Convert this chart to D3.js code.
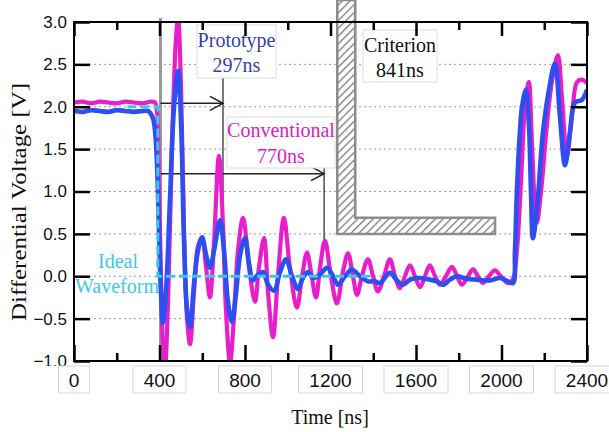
<!DOCTYPE html>
<html>
<head>
<meta charset="utf-8">
<script src="https://cdn.jsdelivr.net/npm/d3@7"></script>
<style>
  html, body { margin: 0; padding: 0; background: #fff; }
  svg { display: block; }
</style>
</head>
<body>
<svg id="chart" width="609" height="432"></svg>
<script>
// ---------------- DATA ----------------
const xTickLabels = [0, 400, 800, 1200, 1600, 2000, 2400];
const xMinorTicks = [200, 600, 1000, 1400, 1800, 2200];
const yTickValues = [-1.0, -0.5, 0.0, 0.5, 1.0, 1.5, 2.0, 2.5, 3.0];

// Conventional (magenta) waveform: time [ns], voltage [V]
const convTime = [0, 40, 80, 120, 160, 200, 240, 280, 320, 360, 379, 388, 398, 407, 416, 426, 440, 458, 477, 487,
  501, 515, 529, 543, 561, 580, 599, 618, 636, 655, 678, 697, 711, 730, 748, 767, 791, 819, 847, 865,
  889, 908, 931, 954, 982, 1010, 1043, 1067, 1090, 1109, 1132, 1151, 1174, 1202, 1230, 1258, 1282, 1305, 1324, 1347,
  1375, 1399, 1422, 1450, 1478, 1502, 1525, 1548, 1572, 1595, 1619, 1642, 1665, 1689, 1712, 1740, 1768, 1792, 1815, 1843,
  1867, 1890, 1913, 1941, 1969, 1997, 2030, 2054, 2072, 2091, 2110, 2128, 2142, 2157, 2166, 2185, 2213, 2236, 2264, 2283,
  2306, 2330, 2353, 2376, 2400];
const convVolt = [2.05, 2.06, 2.04, 2.06, 2.05, 2.04, 2.06, 2.05, 2.04, 2.06, 2.05, 1.95, 1.0, 0.0, -0.8, -1.05, -0.3, 1.5, 2.8, 3.05,
  2.2, 0.5, -0.5, -0.8, -0.2, 0.35, 0.45, 0.1, -0.25, 0.4, 1.42, 0.6, -0.4, -1.02, -0.5, 0.3, 0.69, 0.1, -0.3, 0.1,
  0.45, -0.2, -0.72, 0.0, 0.69, 0.1, -0.37, 0.0, 0.28, 0.05, -0.25, 0.1, 0.42, 0.0, -0.32, 0.05, 0.27, 0.0, -0.22, 0.0,
  0.2, 0.0, -0.18, 0.0, 0.2, 0.0, -0.14, 0.0, 0.13, 0.0, -0.13, 0.0, 0.13, 0.0, -0.1, 0.0, 0.11, 0.0, -0.1, 0.0,
  0.08, 0.0, -0.08, 0.0, 0.07, 0.0, -0.08, -0.03, 0.3, 1.1, 2.0, 2.29, 1.6, 0.8, 0.63, 1.0, 1.8, 2.3, 2.61, 2.1,
  1.41, 1.9, 2.29, 2.32, 2.28];

// Prototype (blue) waveform
const protoTime = [0, 40, 80, 120, 160, 200, 240, 280, 320, 346, 356, 370, 379, 388, 398, 407, 416, 430, 449, 468,
  487, 501, 515, 529, 543, 561, 580, 599, 618, 636, 655, 683, 702, 720, 739, 758, 777, 800, 819, 837,
  861, 884, 908, 936, 964, 992, 1020, 1048, 1071, 1095, 1118, 1151, 1184, 1212, 1235, 1268, 1300, 1338, 1375, 1408,
  1431, 1478, 1511, 1539, 1572, 1609, 1665, 1698, 1726, 1759, 1792, 1838, 1885, 1946, 1993, 2030, 2054, 2063, 2072, 2086,
  2096, 2114, 2128, 2138, 2147, 2166, 2194, 2222, 2250, 2273, 2297, 2320, 2344, 2376, 2400];
const protoVolt = [1.95, 1.94, 1.96, 1.95, 1.94, 1.96, 1.95, 1.94, 1.95, 1.95, 1.93, 1.86, 1.72, 1.35, 0.5, -0.2, -0.55, -0.2, 0.9, 2.0,
  2.42, 1.8, 0.4, -0.4, -0.6, -0.1, 0.3, 0.46, 0.25, 0.1, 0.3, 0.66, 0.3, -0.3, -0.54, -0.2, 0.25, 0.45, 0.15, -0.05,
  0.02, 0.05, -0.1, -0.17, 0.05, 0.2, 0.0, -0.15, -0.02, 0.05, -0.02, 0.02, 0.1, 0.0, -0.1, 0.0, 0.08, 0.0, -0.06, -0.06,
  -0.08, 0.04, -0.05, -0.1, -0.04, -0.02, -0.04, -0.06, -0.1, -0.04, 0.0, -0.03, -0.04, -0.05, -0.02, -0.06, -0.08, 0.3, 1.0, 1.7,
  2.0, 2.2, 1.8, 1.0, 0.45, 0.8, 1.7, 2.2, 2.51, 1.9, 1.31, 1.7, 2.05, 2.08, 2.2];

// Ideal waveform
const idealTime = [250, 392, 392, 1400];
const idealVolt = [2.0, 2.0, 0.0, 0.0];

// Annotations
const pulseStart = 400;          // ns
const protoSettling = 297;       // ns
const convSettling = 770;        // ns
const criterionTime = 841;       // ns
const annotationTexts = { proto: ["Prototype", "297ns"], conv: ["Conventional", "770ns"], crit: ["Criterion", "841ns"], ideal: ["Ideal", "Waveform"] };

// ---------------- DRAW ----------------
const svg = d3.select("#chart");
const L = 74, R = 587, T = 22, B = 361;
const x = d3.scaleLinear().domain([0, 2400]).range([L, R]);
const y = d3.scaleLinear().domain([-1, 3]).range([B, T]);

const C_MAG = "#e81ecb", C_BLUE = "#2e4ff0", C_CYAN = "#3cc8ec";
const SERIF = "'Liberation Serif', 'Times New Roman', serif";
const SANS = "'Liberation Sans', Arial, sans-serif";

const defs = svg.append("defs");
defs.append("clipPath").attr("id", "plotclip").append("rect")
  .attr("x", L).attr("y", T).attr("width", R - L).attr("height", B - T);
const pat = defs.append("pattern").attr("id", "hatch").attr("patternUnits", "userSpaceOnUse")
  .attr("width", 5.5).attr("height", 5.5).attr("patternTransform", "rotate(45)");
pat.append("rect").attr("width", 5.5).attr("height", 5.5).attr("fill", "#fff");
pat.append("line").attr("x1", 0).attr("y1", 0).attr("x2", 0).attr("y2", 5.5)
  .attr("stroke", "#7a7a7a").attr("stroke-width", 2.6);

// gridlines
svg.append("g").selectAll("line").data(yTickValues.filter(v => v > -1 && v < 3)).join("line")
  .attr("x1", L).attr("x2", R).attr("y1", d => y(d)).attr("y2", d => y(d))
  .attr("stroke", "#9a9a9a").attr("stroke-width", 1).attr("stroke-dasharray", "2,3");

// criterion hatched L-shape
const critX0 = x(pulseStart + criterionTime) - 2;
const critX1 = critX0 + 18;
const critEnd = x(1970);
const critTopY = 0;
const critBarTop = y(0.69), critBarBot = y(0.5);
const critPath = `M${critX0},${critTopY} L${critX1},${critTopY} L${critX1},${critBarTop} L${critEnd},${critBarTop} L${critEnd},${critBarBot} L${critX0},${critBarBot} Z`;
svg.append("path").attr("d", critPath).attr("fill", "url(#hatch)").attr("stroke", "#8c8c8c").attr("stroke-width", 2.5);

// gray reference line at pulse start
svg.append("line").attr("x1", x(pulseStart) + 1).attr("x2", x(pulseStart) + 1).attr("y1", 18).attr("y2", B)
  .attr("stroke", "#9a9a9a").attr("stroke-width", 3);

// text boxes
function textBox(x0, y0, w, h, lines, color, baseOffsets) {
  svg.append("rect").attr("x", x0).attr("y", y0).attr("width", w).attr("height", h)
    .attr("fill", "#fff").attr("stroke", "#dcdcdc").attr("stroke-width", 1);
  lines.forEach((t, i) => {
    svg.append("text").attr("x", x0 + w / 2).attr("y", y0 + baseOffsets[i])
      .attr("text-anchor", "middle").attr("font-family", SERIF).attr("font-size", 20)
      .attr("fill", color).text(t);
  });
}

// vertical marker lines & arrows
function arrow(t0, t1, v, vLineTop, vLineBot) {
  const ya = y(v), xs = x(t0) + 1, xe = x(t1);
  svg.append("line").attr("x1", xe).attr("x2", xe).attr("y1", vLineTop).attr("y2", vLineBot)
    .attr("stroke", "#333").attr("stroke-width", 1.3);
  svg.append("line").attr("x1", xs).attr("x2", xe).attr("y1", ya).attr("y2", ya)
    .attr("stroke", "#222").attr("stroke-width", 1.5);
  svg.append("path").attr("d", `M${xe - 13},${ya - 7} L${xe},${ya} L${xe - 13},${ya + 7}`)
    .attr("fill", "none").attr("stroke", "#222").attr("stroke-width", 1.5);
}
arrow(pulseStart, pulseStart + protoSettling, 2.04, 78, y(0.7));
arrow(pulseStart, pulseStart + convSettling, 1.21, 156, y(0.43));

textBox(197, 25, 79, 53, annotationTexts.proto, "#3341a8", [22, 47]);
textBox(227, 117, 108, 51, annotationTexts.conv, "#d523c4", [20, 46]);
textBox(363, 30, 74, 52, annotationTexts.crit, "#111", [22, 47]);

// Ideal waveform label
svg.append("text").attr("x", 118).attr("y", 268).attr("text-anchor", "middle")
  .attr("font-family", SERIF).attr("font-size", 20).attr("fill", C_CYAN).text(annotationTexts.ideal[0]);
svg.append("text").attr("x", 117).attr("y", 293).attr("text-anchor", "middle")
  .attr("font-family", SERIF).attr("font-size", 20).attr("fill", C_CYAN).text(annotationTexts.ideal[1]);

// waveforms
const line = d3.line().x(d => x(d[0])).y(d => y(d[1])).curve(d3.curveCatmullRom.alpha(0.5));
const plot = svg.append("g").attr("clip-path", "url(#plotclip)");
plot.append("path").datum(d3.zip(convTime, convVolt)).attr("d", line)
  .attr("fill", "none").attr("stroke", C_MAG).attr("stroke-width", 4.2).attr("stroke-linejoin", "round");
plot.append("path").datum(d3.zip(protoTime, protoVolt)).attr("d", line)
  .attr("fill", "none").attr("stroke", C_BLUE).attr("stroke-width", 4.6).attr("stroke-linejoin", "round");
plot.append("path").datum(d3.zip(idealTime, idealVolt))
  .attr("d", d3.line().x(d => x(d[0])).y(d => y(d[1])))
  .attr("fill", "none").attr("stroke", C_CYAN).attr("stroke-width", 3).attr("stroke-dasharray", "9,4");

// axes: ticks inward
function styleAxis(g) {
  g.select(".domain").remove();
  g.selectAll(".tick line").attr("stroke", "#000").attr("stroke-width", 2.5);
}
svg.append("g").attr("transform", `translate(0,${B})`)
  .call(d3.axisBottom(x).tickValues(xTickLabels).tickSize(-16).tickFormat("")).call(styleAxis);
svg.append("g").attr("transform", `translate(0,${B})`)
  .call(d3.axisBottom(x).tickValues(xMinorTicks).tickSize(-8).tickFormat("")).call(styleAxis);
svg.append("g").attr("transform", `translate(0,${T})`)
  .call(d3.axisTop(x).tickValues(xTickLabels).tickSize(-14).tickFormat("")).call(styleAxis);
svg.append("g").attr("transform", `translate(0,${T})`)
  .call(d3.axisTop(x).tickValues(xMinorTicks).tickSize(-8).tickFormat("")).call(styleAxis);
svg.append("g").attr("transform", `translate(${R},0)`)
  .call(d3.axisRight(y).tickValues(yTickValues).tickSize(-16).tickFormat("")).call(styleAxis);
const yAx = svg.append("g").attr("transform", `translate(${L},0)`)
  .call(d3.axisLeft(y).tickValues(yTickValues).tickSize(-16).tickPadding(7).tickFormat(d3.format(".1f")));
styleAxis(yAx);
yAx.selectAll("text").attr("font-family", SANS).attr("font-size", 17).attr("fill", "#111");

// frame
svg.append("rect").attr("x", L).attr("y", T).attr("width", R - L).attr("height", B - T)
  .attr("fill", "none").attr("stroke", "#000").attr("stroke-width", 2);

// white band below axis (hides bottom of lowest y label)
svg.append("rect").attr("x", 0).attr("y", 366).attr("width", 70).attr("height", 30).attr("fill", "#fff");

// x tick labels in boxes
const xl = svg.append("g").selectAll("g").data(xTickLabels).join("g")
  .attr("transform", d => `translate(${x(d)},0)`);
xl.append("rect").attr("x", d => -(String(d).length * 5.5 + 10)).attr("y", 366)
  .attr("width", d => 2 * (String(d).length * 5.5 + 10)).attr("height", 27)
  .attr("fill", "#fff").attr("stroke", "#d8d8d8").attr("stroke-width", 1);
xl.append("text").attr("y", 387).attr("text-anchor", "middle")
  .attr("font-family", SANS).attr("font-size", 19).attr("fill", "#111").text(d => d);

// axis titles
svg.append("text").attr("x", 330).attr("y", 424).attr("text-anchor", "middle")
  .attr("font-family", SERIF).attr("font-size", 20).attr("fill", "#111").text("Time [ns]");
svg.append("text").attr("transform", "translate(26,202) rotate(-90)").attr("text-anchor", "middle")
  .attr("font-family", SERIF).attr("font-size", 20).attr("fill", "#111")
  .attr("textLength", 238).attr("lengthAdjust", "spacingAndGlyphs").text("Differential Voltage [V]");
</script>
</body>
</html>
